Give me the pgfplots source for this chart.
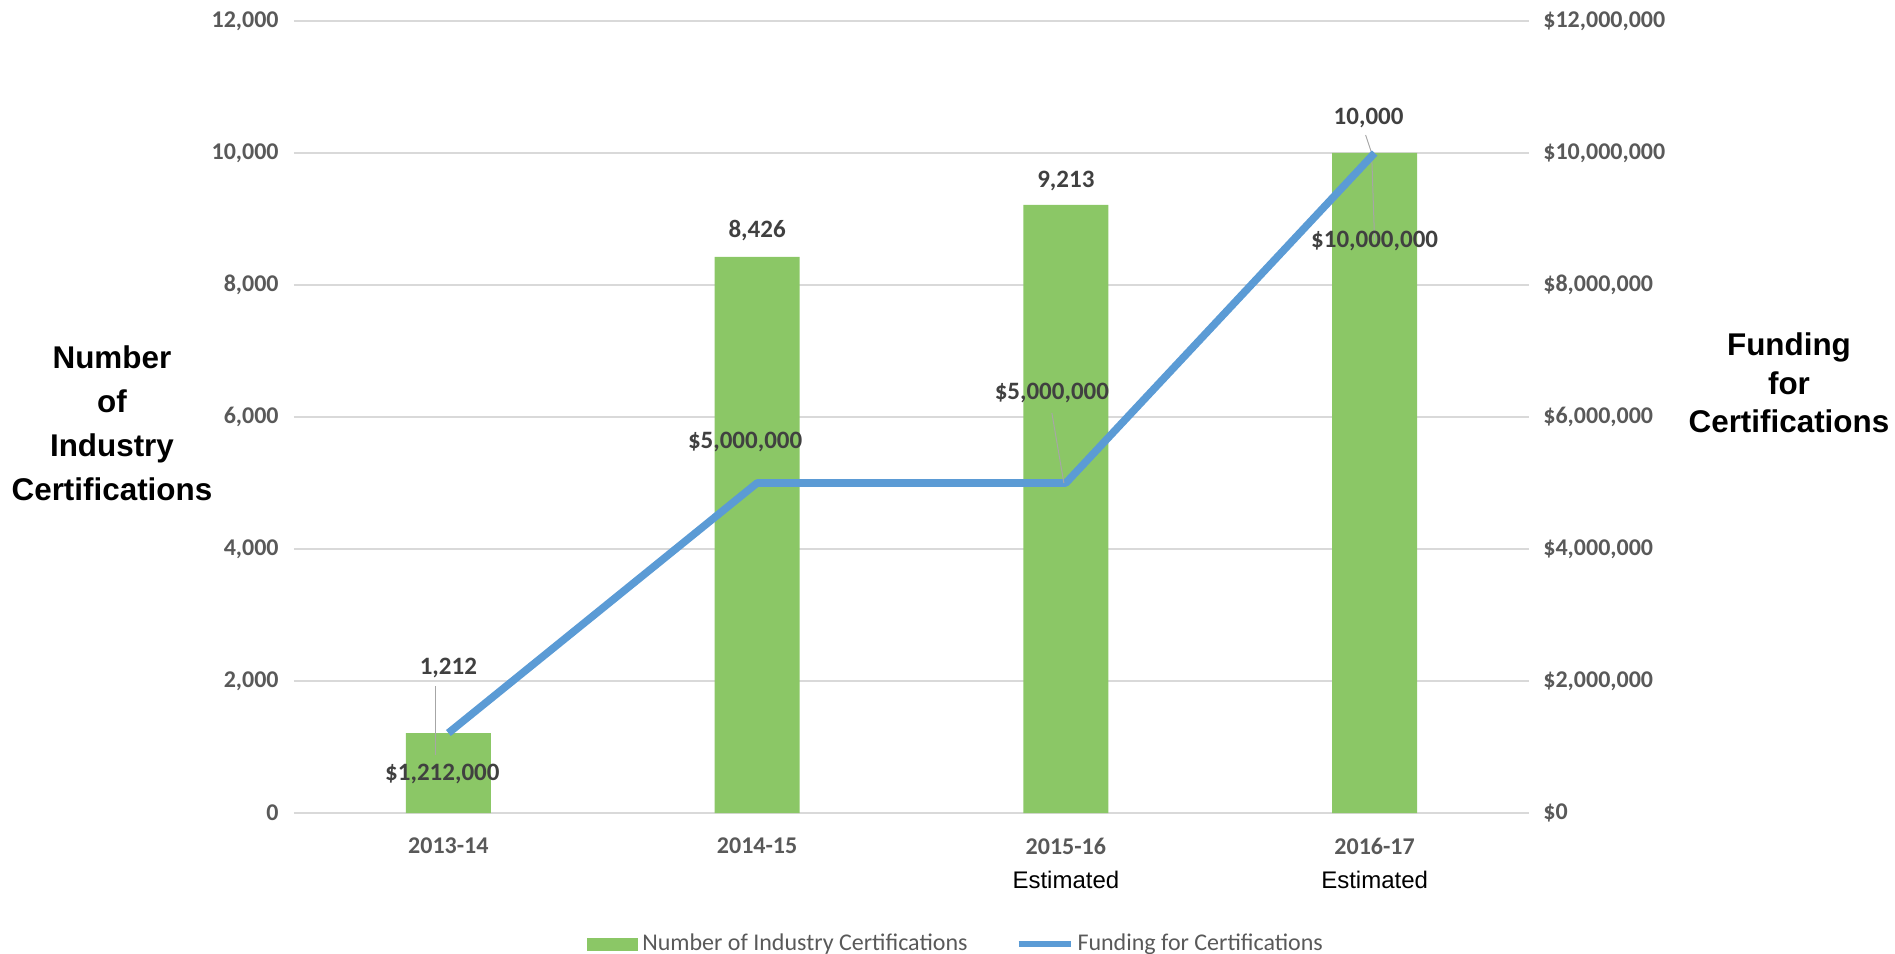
\documentclass[border=0pt]{standalone}
\usepackage{pgfplots}
\pgfplotsset{compat=1.18}
\usepackage{fontspec}
\setmainfont{Carlito}
\newfontfamily\arialfont{Liberation Sans}
\definecolor{barg}{RGB}{139,199,102}
\definecolor{lineb}{RGB}{91,155,213}
\definecolor{tickc}{RGB}{89,89,89}
\definecolor{labc}{RGB}{64,64,64}
\definecolor{gridc}{RGB}{217,217,217}
\definecolor{leadc}{RGB}{166,166,166}
\begin{document}
\begin{tikzpicture}
\useasboundingbox (-147bp,-70.5bp) rectangle (800.5bp,406.5bp);
\begin{axis}[
  at={(0,0)}, anchor=south west,
  scale only axis, width=617.5bp, height=396bp,
  xmin=-0.5, xmax=3.5, ymin=0, ymax=12000,
  xtick={0,1,2,3},
  xticklabels={2013-14,2014-15,{2015-16\\[0bp]{\arialfont\mdseries\color{black}Estimated}},{2016-17\\[0bp]{\arialfont\mdseries\color{black}Estimated}}},
  ytick={0,2000,4000,6000,8000,10000,12000},
  yticklabels={0,{2,000},{4,000},{6,000},{8,000},{10,000},{12,000}},
  major tick length=0pt,
  axis line style={draw=none},
  ymajorgrids, grid style={gridc, line width=0.8bp},
  xticklabel style={align=center, font=\bfseries\fontsize{12bp}{17bp}\selectfont, text=tickc, yshift=-9bp},
  yticklabel style={font=\bfseries\fontsize{12bp}{14bp}\selectfont, text=tickc, xshift=-7bp, inner sep=0.5bp},
  ylabel={Number\\of\\Industry\\Certifications},
  ylabel style={at={(axis description cs:-0.1474,0.492)}, anchor=center, rotate=-90, align=center, font=\arialfont\bfseries\fontsize{15.7bp}{22bp}\selectfont, text=black},
  clip=false,
]
\addplot[ybar, bar width=42.5bp, fill=barg, draw=none] coordinates {(0,1212) (1,8426) (2,9213) (3,10000)};
\begin{scope}[every node/.style={font=\bfseries\fontsize{12.5bp}{14bp}\selectfont, text=labc}]
\node at ([yshift=32.5bp]axis cs:0,1212) {1,212};
\node at ([yshift=13bp]axis cs:1,8426) {8,426};
\node at ([yshift=12bp]axis cs:2,9213) {9,213};
\node at ([xshift=-3bp,yshift=17.5bp]axis cs:3,10000) {10,000};
\end{scope}
\draw[leadc, line width=0.5bp] ([xshift=-6.5bp,yshift=23.5bp]axis cs:0,1212) -- ([xshift=-6.5bp,yshift=-11bp]axis cs:0,1212);
\draw[leadc, line width=0.5bp] ([xshift=-4.5bp,yshift=9bp]axis cs:3,10000) -- ([xshift=-1.5bp]axis cs:3,10000) -- (axis cs:3,8667);
\end{axis}
\begin{axis}[
  at={(0,0)}, anchor=south west,
  scale only axis, width=617.5bp, height=396bp,
  xmin=-0.5, xmax=3.5, ymin=0, ymax=12000000,
  hide x axis,
  axis y line*=right,
  y axis line style={draw=none},
  major tick length=0pt,
  scaled y ticks=false,
  ytick={0,2000000,4000000,6000000,8000000,10000000,12000000},
  yticklabels={{\$0},{\$2,000,000},{\$4,000,000},{\$6,000,000},{\$8,000,000},{\$10,000,000},{\$12,000,000}},
  yticklabel style={font=\bfseries\fontsize{12bp}{14bp}\selectfont, text=tickc, xshift=6.5bp, inner sep=0.5bp},
  ylabel={Funding\\for\\Certifications},
  ylabel style={at={(axis description cs:1.2105,0.543)}, anchor=center, rotate=-90, align=center, font=\arialfont\bfseries\fontsize{15.7bp}{19.3bp}\selectfont, text=black},
  clip=false,
  legend columns=2,
  legend style={at={(0.537,-0.1654)}, anchor=center, draw=none, fill=none,
    font=\fontsize{12bp}{14bp}\selectfont, text=tickc,
    nodes={inner sep=2bp},
    /tikz/every even column/.append style={column sep=22bp}},
]
\addlegendimage{legend image code/.code={\fill[barg] (0bp,-3bp) rectangle (25bp,3bp);}}
\addlegendentry{Number of Industry Certifications}
\addplot[lineb, line width=3.8bp, line join=round, mark=none,
  legend image code/.code={\draw[lineb, line width=3bp] (0bp,0bp) -- (26bp,0bp);}]
  coordinates {(0,1212000) (1,5000000) (2,5000000) (3,10000000)};
\addlegendentry{Funding for Certifications}
\draw[leadc, line width=0.5bp] ([xshift=-7bp,yshift=35bp]axis cs:2,5000000) -- ([xshift=-1bp]axis cs:2,5000000);
\begin{scope}[every node/.style={font=\bfseries\fontsize{12.5bp}{14bp}\selectfont, text=labc}]
\node at ([xshift=-3bp,yshift=-20.5bp]axis cs:0,1212000) {\$1,212,000};
\node at ([xshift=-6bp,yshift=20.5bp]axis cs:1,5000000) {\$5,000,000};
\node at ([xshift=-7bp,yshift=45bp]axis cs:2,5000000) {\$5,000,000};
\node at ([yshift=-44bp]axis cs:3,10000000) {\$10,000,000};
\end{scope}
\end{axis}
\end{tikzpicture}
\end{document}
